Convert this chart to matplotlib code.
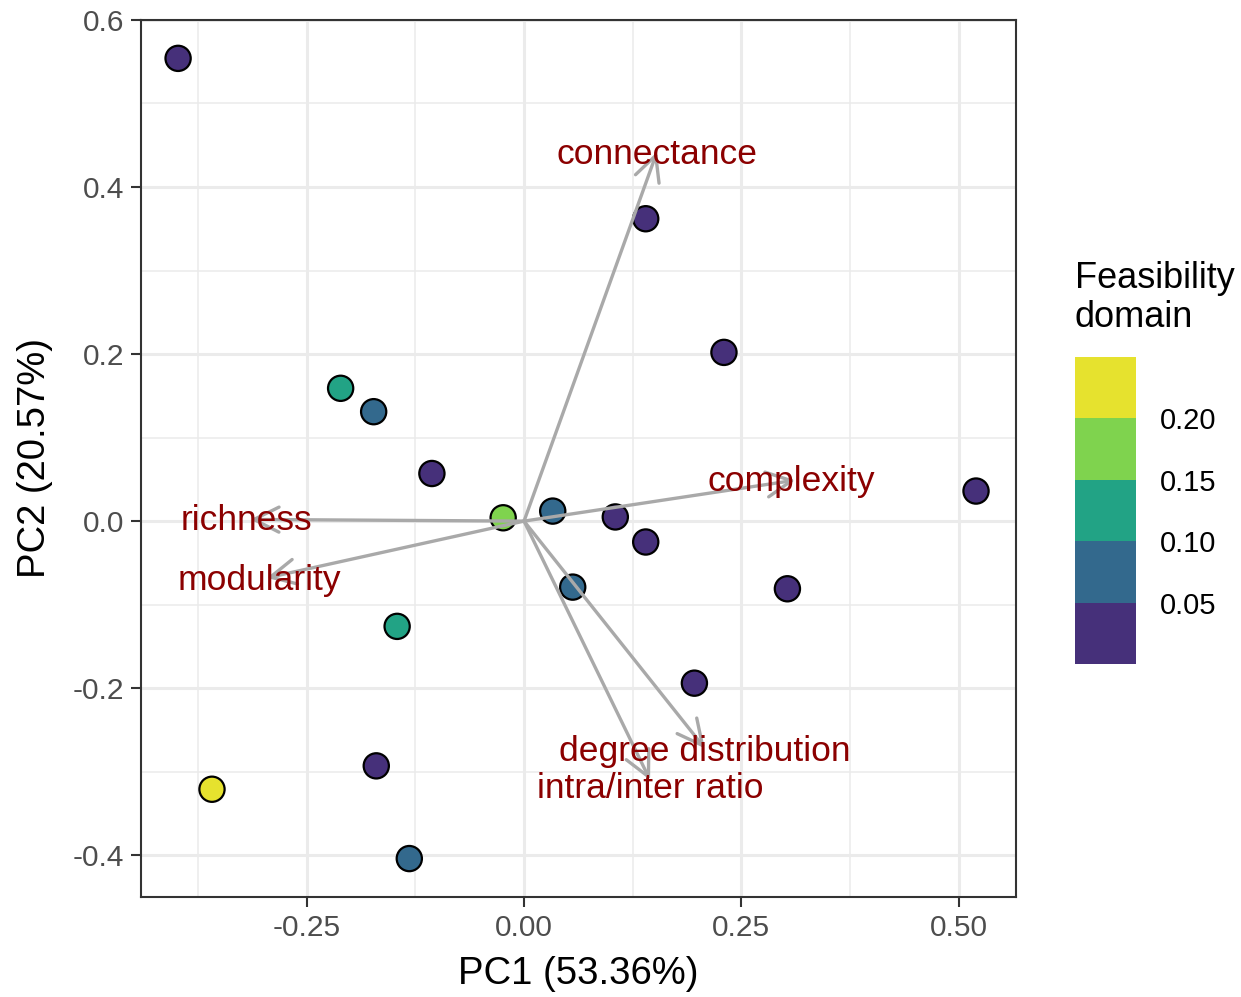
import numpy as np
import matplotlib
matplotlib.use("Agg")
import matplotlib.pyplot as plt
from matplotlib.colors import ListedColormap, BoundaryNorm

plt.rcParams["font.family"] = ["Liberation Sans", "DejaVu Sans"]

# site scores
pc1 = [-0.398, 0.140, 0.230, -0.211, -0.173, -0.106, -0.024, 0.033, 0.105,
       0.140, 0.520, 0.056, 0.303, -0.146, 0.196, -0.170, -0.359, -0.132]
pc2 = [0.554, 0.362, 0.202, 0.159, 0.131, 0.057, 0.004, 0.012, 0.005,
       -0.025, 0.036, -0.079, -0.081, -0.126, -0.194, -0.293, -0.321, -0.404]
feas = [0.03, 0.03, 0.03, 0.12, 0.07, 0.03, 0.17, 0.07, 0.03,
        0.03, 0.03, 0.07, 0.03, 0.12, 0.03, 0.03, 0.22, 0.07]

# variable loadings
var_names = ["connectance", "complexity", "richness", "modularity",
             "degree distribution", "intra/inter ratio"]
load1 = [0.153, 0.312, -0.315, -0.296, 0.208, 0.145]
load2 = [0.442, 0.049, 0.002, -0.068, -0.272, -0.310]

bins = [0.0, 0.05, 0.10, 0.15, 0.20, 0.25]
bin_ticks = [0.05, 0.10, 0.15, 0.20]
bin_colors = ["#46307A", "#33698D", "#22A385", "#7FD34E", "#E6E22E"]

cmap = ListedColormap(bin_colors)
norm = BoundaryNorm(bins, cmap.N)

fig = plt.figure(figsize=(12.41, 9.97), dpi=100)
ax = fig.add_axes([0.1136, 0.1003, 0.7051, 0.8797])

ax.set_xlim(-0.4407, 0.566)
ax.set_ylim(-0.45, 0.6)

ax.set_xticks([-0.25, 0.0, 0.25, 0.5])
ax.set_xticklabels(["-0.25", "0.00", "0.25", "0.50"])
ax.set_yticks([-0.4, -0.2, 0.0, 0.2, 0.4, 0.6])
ax.set_yticklabels(["-0.4", "-0.2", "0.0", "0.2", "0.4", "0.6"])
ax.set_xticks([-0.375, -0.125, 0.125, 0.375], minor=True)
ax.set_yticks([-0.3, -0.1, 0.1, 0.3, 0.5], minor=True)

ax.grid(which="major", color="#EBEBEB", linewidth=2.2)
ax.grid(which="minor", color="#EBEBEB", linewidth=1.1)
ax.set_axisbelow(True)
ax.tick_params(which="major", length=7, width=1.5, color="#333333",
               labelsize=21.5, labelcolor="#4D4D4D", pad=5)
ax.tick_params(which="minor", length=0)
for s in ax.spines.values():
    s.set_color("#333333")
    s.set_linewidth(1.5)

ax.scatter(pc1, pc2, c=feas, cmap=cmap, norm=norm, s=330,
           edgecolors="black", linewidths=1.6, zorder=3)

for name, x, y in zip(var_names, load1, load2):
    ax.annotate("", xy=(x, y), xytext=(0, 0),
                arrowprops=dict(arrowstyle="->,head_length=0.9,head_width=0.45",
                                color="#A9A9A9", lw=2.4, mutation_scale=20,
                                shrinkA=0, shrinkB=0),
                zorder=4)

offsets = {"intra/inter ratio": (0, -6), "modularity": (-5, -2),
           "complexity": (-3, -1), "richness": (-3, -1), "connectance": (0, -2),
           "degree distribution": (0, -2)}
for name, x, y in zip(var_names, load1, load2):
    dx, dy = offsets.get(name, (0, 0))
    ax.annotate(name, xy=(x, y), xytext=(dx, dy), textcoords="offset points",
                ha="center", va="center", color="#8B0000", fontsize=25.5,
                zorder=5)

ax.set_xlabel("PC1 (53.36%)", fontsize=27.5, labelpad=10)
ax.set_ylabel("PC2 (20.57%)", fontsize=27.5, labelpad=14)

cax = fig.add_axes([0.8662, 0.334, 0.0492, 0.308])
cb = fig.colorbar(plt.cm.ScalarMappable(norm=norm, cmap=cmap), cax=cax,
                  ticks=bin_ticks)
cb.outline.set_visible(False)
cb.ax.minorticks_off()
cb.ax.tick_params(which="both", length=0, labelsize=21, pad=17)
cb.ax.set_yticklabels(["0.05", "0.10", "0.15", "0.20"])
fig.text(0.866, 0.664, "Feasibility\ndomain", fontsize=26, ha="left",
         va="bottom", linespacing=1.15)

plt.savefig("out.png", dpi=100)
